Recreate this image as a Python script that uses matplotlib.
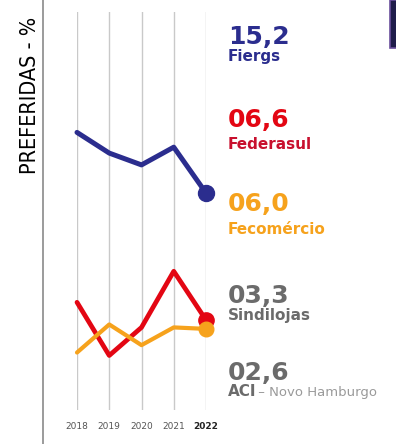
import matplotlib
matplotlib.use("Agg")
import matplotlib.pyplot as plt
from matplotlib.lines import Line2D
from matplotlib.patches import Rectangle

years = [2018, 2019, 2020, 2021, 2022]
fiergs = [19.3, 17.9, 17.1, 18.3, 15.2]
federasul = [7.8, 4.2, 6.1, 9.9, 6.6]
fecomercio = [4.4, 6.3, 4.9, 6.1, 6.0]

labels_num = ["15,2", "06,6", "06,0", "03,3", "02,6"]
labels_name = ["Fiergs", "Federasul", "Fecomércio", "Sindilojas", "ACI"]

BLUE = "#2b2d8e"
RED = "#e30613"
ORANGE = "#f6a21c"
GRAY = "#6b6b6b"

W, H = 396, 444
fig = plt.figure(figsize=(W / 100, H / 100), dpi=100)
fig.patch.set_facecolor("white")

def fx(px):
    return px / W

def fy(py):
    return 1 - py / H

# axes: x from px 77 to 206, y from px 12 (top) to 410 (bottom)
ax = fig.add_axes([fx(77), fy(410), fx(206) - fx(77), fy(12) - fy(410)])
ax.set_xlim(2018, 2022)
ax.set_ylim(0.51, 27.45)
ax.axis("off")

for yr in years:
    ax.axvline(yr, color="#c9c9c9", lw=1.0, zorder=0)

ax.plot(years, fiergs, color=BLUE, lw=3.6, solid_capstyle="round", solid_joinstyle="round", clip_on=False, zorder=3)
ax.plot(years[-1], fiergs[-1], "o", color=BLUE, ms=11.5, clip_on=False, zorder=3)
ax.plot(years, federasul, color=RED, lw=3.4, solid_capstyle="round", solid_joinstyle="round", clip_on=False, zorder=3)
ax.plot(years[-1], federasul[-1], "o", color=RED, ms=11, clip_on=False, zorder=3)
ax.plot(years, fecomercio, color=ORANGE, lw=3.0, solid_capstyle="round", solid_joinstyle="round", clip_on=False, zorder=4)
ax.plot(years[-1], fecomercio[-1], "o", color=ORANGE, ms=10.5, clip_on=False, zorder=4)

# year labels
for yr in years:
    bold = yr == years[-1]
    ax.text(yr, -0.58, str(yr), ha="center", va="center", fontsize=6.5,
            color="#222222" if bold else "#555555",
            fontweight="bold" if bold else "normal")

# left vertical line
fig.add_artist(Line2D([fx(43), fx(43)], [0, 1], color="#8a8a8a", lw=1.2))

# y label
fig.text(fx(30), fy(95), "PREFERIDAS - %", rotation=90, ha="center", va="center",
         fontsize=15.5, fontstretch="condensed", fontweight="medium", color="#000000")

# top-right box
fig.add_artist(Rectangle((fx(390), fy(48)), fx(10), fy(0) - fy(48), facecolor="#1f1c4a",
                         edgecolor="#6a4f9c", lw=1.2))

# right labels
num_cols = [BLUE, RED, ORANGE, GRAY, GRAY]
name_cols = [BLUE, "#c8102e", ORANGE, GRAY, GRAY]
num_base = [44, 127, 211, 303, 380]
name_base = [61, 149, 234, 320, 396]
X0 = fx(228)
for num, name, nc, mc, nb, mb in zip(labels_num, labels_name, num_cols, name_cols, num_base, name_base):
    fig.text(X0, fy(nb), num, fontsize=18, fontweight="heavy", color=nc, va="baseline", ha="left")
    fig.text(X0, fy(mb), name, fontsize=11, fontweight="bold", color=mc, va="baseline", ha="left")

fig.text(fx(254), fy(396), " – Novo Hamburgo", fontsize=9.5, color="#9a9a9a", va="baseline", ha="left")

fig.savefig("out.png", dpi=100)
